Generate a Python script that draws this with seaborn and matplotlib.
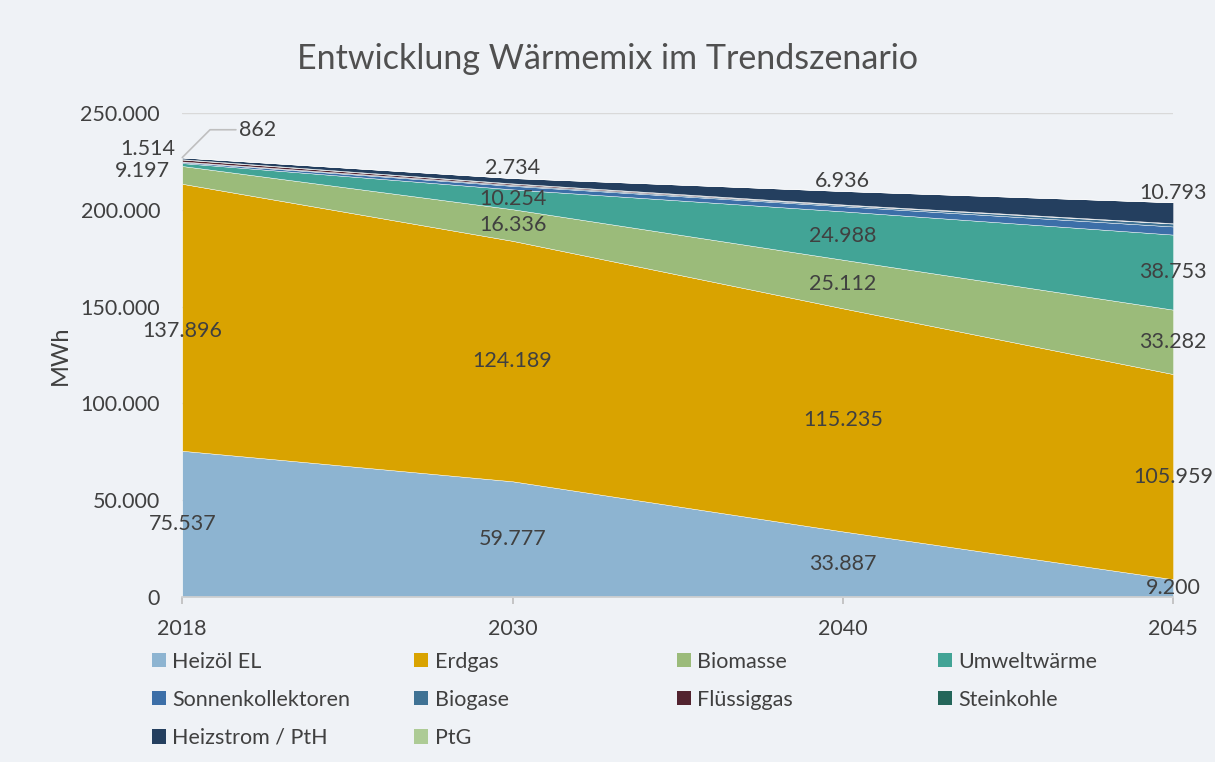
import numpy as np
import matplotlib
matplotlib.use("Agg")
import matplotlib.pyplot as plt
import seaborn as sns
from matplotlib.ticker import FuncFormatter
from matplotlib.patches import Patch

# data (MWh)
years = ["2018", "2030", "2040", "2045"]
series_names = ["Heizöl EL", "Erdgas", "Biomasse", "Umweltwärme", "Sonnenkollektoren",
                "Biogase", "Flüssiggas", "Steinkohle", "Heizstrom / PtH", "PtG"]
heizoel = [75537, 59777, 33887, 9200]
erdgas = [137896, 124189, 115235, 105959]
biomasse = [9197, 16336, 25112, 33282]
umweltwaerme = [1514, 10254, 24988, 38753]
sonnenkollektoren = [500, 1800, 2600, 4200]
biogase = [300, 500, 600, 1500]
fluessiggas = [1000, 600, 250, 150]
steinkohle = [200, 200, 100, 50]
heizstrom = [862, 2734, 6936, 10793]
ptg = [0, 0, 0, 0]

colors = ["#8DB4D1", "#D9A300", "#9BBB7A", "#42A496", "#3C6FA8",
          "#3F7294", "#52232F", "#24665A", "#243F5F", "#ADCB95"]

bg = "#EFF2F6"
txt = "#404040"
fs = 15.5

sns.set_theme(style="white")
plt.rcParams["font.family"] = ["Lato", "DejaVu Sans"]

fig = plt.figure(figsize=(12.15, 7.62), dpi=100, facecolor=bg)
ax = fig.add_axes([0.15, 0.2165, 0.8155, 0.6352])
ax.set_facecolor(bg)

data = [heizoel, erdgas, biomasse, umweltwaerme, sonnenkollektoren,
        biogase, fluessiggas, steinkohle, heizstrom, ptg]
x = np.arange(len(years))

ax.yaxis.grid(True, color="#D9D9D9", linewidth=1)
ax.set_axisbelow(True)
ax.stackplot(x, *data, colors=colors, labels=series_names,
             edgecolor="white", linewidth=0.3, zorder=2)

ax.set_xlim(0, 3)
ax.set_ylim(0, 250000)
ax.set_yticks(np.arange(0, 250001, 50000))
ax.yaxis.set_major_formatter(FuncFormatter(lambda v, p: f"{v:,.0f}".replace(",", ".")))
ax.set_xticks(x)
ax.set_xticklabels(years)
ax.tick_params(axis="y", length=0, labelsize=fs, labelcolor=txt, pad=16)
ax.tick_params(axis="x", length=5, color="#BFBFBF", labelsize=fs, labelcolor=txt, pad=11, bottom=True)
for s in ["top", "right", "left"]:
    ax.spines[s].set_visible(False)
ax.spines["bottom"].set_color("#D0D0D0")
ax.set_ylabel("MWh", fontsize=17, color=txt, labelpad=7)

fig.suptitle("Entwicklung Wärmemix im Trendszenario", fontsize=24.5, color="#505050", y=0.944)

# data labels centred in layers
cum = np.cumsum(np.array(data), axis=0)
labelled = [0, 1, 2, 3]
for i in labelled:
    for j in range(len(years)):
        if years[j] == "2018" and i >= 2:
            continue
        mid = cum[i][j] - data[i][j] / 2
        dy = -10 if (years[j] == "2018" and i == 1) else 0
        ax.annotate(f"{data[i][j]:,}".replace(",", "."), (x[j], mid), xytext=(0, dy),
                    textcoords="offset points", ha="center", va="center",
                    fontsize=fs, color=txt, zorder=5, annotation_clip=False)

# heizstrom labels above the stack
tops = cum[-1]
for j in range(1, len(years)):
    ax.annotate(f"{heizstrom[j]:,}".replace(",", "."), (x[j], tops[j]), xytext=(0, 7),
                textcoords="offset points", ha="center", va="center", fontsize=fs, color=txt)

# 2018 small labels
ax.annotate(f"{biomasse[0]:,}".replace(",", "."), (0, cum[2][0] - biomasse[0] / 2),
            xytext=(-9, 3), textcoords="offset points", ha="right", va="center",
            fontsize=fs, color=txt, annotation_clip=False)
ax.annotate(f"{umweltwaerme[0]:,}".replace(",", "."), (0, cum[3][0]),
            xytext=(-5, 10), textcoords="offset points", ha="right", va="center",
            fontsize=fs, color=txt, annotation_clip=False)
ax.annotate(f"{heizstrom[0]}", (0, tops[0]), xytext=(41, 20), textcoords="offset points",
            ha="left", va="center", fontsize=fs, color=txt, annotation_clip=False,
            arrowprops=dict(arrowstyle="-", color="#BFBFBF", lw=1.2,
                            connectionstyle="angle,angleA=0,angleB=45,rad=0",
                            shrinkA=0, shrinkB=0))

# legend in four columns
columns = [[0, 4, 8], [1, 5, 9], [2, 6], [3, 7]]
col_x = [0.118, 0.334, 0.550, 0.765]
for cx, idxs in zip(col_x, columns):
    handles = [Patch(facecolor=colors[k], edgecolor="none", label=series_names[k]) for k in idxs]
    fig.legend(handles=handles, loc="upper left", bbox_to_anchor=(cx, 0.156),
               frameon=False, fontsize=fs, labelcolor=txt, handlelength=0.65,
               handleheight=0.65, handletextpad=0.3, labelspacing=0.84, borderaxespad=0)

fig.savefig("out.png", dpi=100, facecolor=bg)
